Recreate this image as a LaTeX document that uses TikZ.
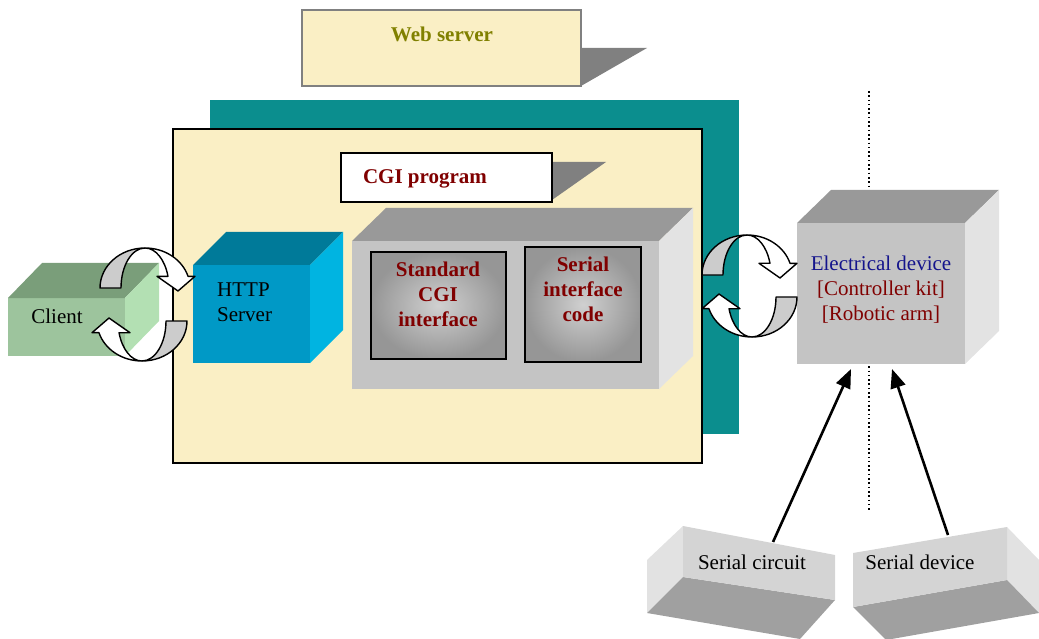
\documentclass[tikz,border=0pt]{standalone}
\usepackage{fontspec}
\setmainfont{Liberation Serif}
\usetikzlibrary{arrows.meta}

\definecolor{paper}{RGB}{250,239,197}
\definecolor{tealplane}{RGB}{11,142,142}
\definecolor{olivetext}{RGB}{128,128,0}
\definecolor{maroontext}{RGB}{128,0,0}
\definecolor{navytext}{RGB}{20,20,140}
\definecolor{shadowgray}{RGB}{128,128,128}
\definecolor{boxfront}{RGB}{196,196,196}
\definecolor{boxtop}{RGB}{153,153,153}
\definecolor{boxside}{RGB}{227,227,227}
\definecolor{httpfront}{RGB}{0,153,198}
\definecolor{httptop}{RGB}{0,122,153}
\definecolor{httpside}{RGB}{0,180,225}
\definecolor{clientfront}{RGB}{157,196,157}
\definecolor{clienttop}{RGB}{122,158,122}
\definecolor{clientside}{RGB}{179,224,179}
\definecolor{innerdark}{RGB}{150,150,150}
\definecolor{innerlight}{RGB}{208,208,208}
\definecolor{slabfront}{RGB}{212,212,212}
\definecolor{slabside}{RGB}{226,226,226}
\definecolor{slabbottom}{RGB}{160,160,160}
\definecolor{ribbon}{RGB}{204,204,204}

% top and right faces of a box whose front face is node #1
\newcommand\cubefaces[5]{%
  \fill[#4] (#1.north west) -- ++(#2,-#3) -- ([shift={(#2,-#3)}]#1.north east) -- (#1.north east) -- cycle;
  \fill[#5] (#1.north east) -- ++(#2,-#3) -- ([shift={(#2,-#3)}]#1.south east) -- (#1.south east) -- cycle;}

% twisted ribbon arrow, drawn about the local origin (y pointing up)
\newcommand\loopribbon{%
  \filldraw[ribbonback] (-45,0) arc[start angle=180,end angle=90,x radius=45,y radius=40]
    arc[start angle=90,end angle=180,x radius=24,y radius=40] -- cycle;
  \filldraw[ribbonfront] (0,40) arc[start angle=90,end angle=17,x radius=45,y radius=40]
    -- (50,11.7) -- (33,-3) -- (12,11.7) -- (22.95,11.7)
    arc[start angle=17,end angle=90,x radius=24,y radius=40] -- cycle;}

\begin{document}
\begin{tikzpicture}[x=1pt,y=-1pt,
  font=\fontsize{21}{25}\selectfont,
  plate/.style={inner sep=0pt, outer sep=0pt, anchor=north west},
  txt/.style={inner sep=0pt, align=center},
  boldtxt/.style={txt, font=\fontsize{21}{25}\selectfont\bfseries},
  ribbonback/.style={fill=ribbon, draw=black, line width=1.4pt, line join=round},
  ribbonfront/.style={fill=white, draw=black, line width=1.4pt, line join=round},
  feed/.style={line width=2.6pt, -{Triangle[length=19pt,width=15pt]}},
  divider/.style={line width=1.6pt, dash pattern=on 1.6pt off 2.7pt},
  framed/.style={draw=black, line width=2pt},
]
\useasboundingbox (0,0) rectangle (1039,639);

% "Web server" tag with its shadow
\fill[shadowgray] (581,48) -- (647,48) -- (581,86) -- cycle;
\node[plate, fill=paper, draw=shadowgray, line width=1.5pt, minimum width=279, minimum height=76] (web) at (302,10) {};
\node[boldtxt, text=olivetext] (web-text) at (442,34) {Web server};

% teal back plane and the host box
\node[plate, fill=tealplane, minimum width=529, minimum height=334] (back) at (210,100) {};
\node[plate, fill=paper, framed, minimum width=529, minimum height=334] (host) at (173,129) {};

% "CGI program" tag
\fill[shadowgray] (552,162) -- (606,162) -- (552,200) -- cycle;
\node[plate, fill=white, draw=black, line width=1.8pt, minimum width=211, minimum height=49] (cgitag) at (341,153) {};
\node[boldtxt, text=maroontext] (cgitag-text) at (425,179) {CGI program};

% grey CGI block with its two modules
\node[plate, fill=boxfront, minimum width=307, minimum height=148] (cgi) at (352,241) {};
\cubefaces{cgi}{34}{33}{boxtop}{boxside}
\node[plate, framed, inner color=innerlight, outer color=innerdark, minimum width=135, minimum height=107] (stdcgi) at (371,252) {};
\node[boldtxt, text=maroontext] (stdcgi-text) at (438,294) {Standard\\CGI\\interface};
\node[plate, framed, inner color=innerlight, outer color=innerdark, minimum width=116, minimum height=115] (sercode) at (525,247) {};
\node[boldtxt, text=maroontext] (sercode-text) at (583,289) {Serial\\interface\\code};

% client box
\node[plate, fill=clientfront, minimum width=117, minimum height=58] (client) at (8,298) {};
\cubefaces{client}{34}{35}{clienttop}{clientside}
\node[txt] (client-text) at (57,316) {Client};

% HTTP server box
\node[plate, fill=httpfront, minimum width=117, minimum height=98] (http) at (193,265) {};
\cubefaces{http}{33}{33}{httptop}{httpside}
\node[txt, align=left, anchor=west] (http-text) at (217,302) {HTTP\\Server};

% dotted divider behind the device
\coordinate (div-top) at (869,91);
\coordinate (div-bot) at (869,510);
\draw[divider] (div-top) -- (div-bot);

% electrical device box
\node[plate, fill=boxfront, minimum width=168, minimum height=141] (elec) at (797,223) {};
\cubefaces{elec}{34}{33}{boxtop}{boxside}
\node[txt] (elec-text) at (881,290) {\textcolor{navytext}{Electrical device}\\\textcolor{maroontext}{[Controller kit]}\\\textcolor{maroontext}{[Robotic arm]}};

% serial circuit slab
\fill[slabside] (683,526) -- (647,560) -- (647,613) -- (683,577) -- cycle;
\fill[slabbottom] (683,577) -- (835,600) -- (800,639) -- (647,613) -- cycle;
\fill[slabfront] (683,526) -- (835,555) -- (835,600) -- (683,577) -- cycle;
\node[txt] (scirc) at (752,562) {Serial circuit};

% serial device slab
\fill[slabside] (1007,527) -- (1039,560) -- (1039,613) -- (1007,580) -- cycle;
\fill[slabbottom] (853,607) -- (1007,580) -- (1039,613) -- (886,640) -- cycle;
\fill[slabfront] (853,553) -- (1007,527) -- (1007,580) -- (853,607) -- cycle;
\node[txt] (sdev) at (920,562) {Serial device};

% links from the serial parts to the device
\coordinate (scirc-port) at (773,542);
\coordinate (sdev-port) at (948,535);
\draw[feed] (scirc-port) -- ([shift={(-30,5)}]elec.south);
\draw[feed] (sdev-port) -- ([shift={(11,5)}]elec.south);

% request/response loops
\coordinate (loop-a) at (145,288);
\coordinate (loop-b) at (142,321);
\coordinate (loop-c) at (747,275);
\coordinate (loop-d) at (752,297);
\begin{scope}[shift={(loop-a)}, yscale=-1] \loopribbon \end{scope}
\begin{scope}[shift={(loop-b)}, xscale=-1] \loopribbon \end{scope}
\begin{scope}[shift={(loop-c)}, yscale=-1] \loopribbon \end{scope}
\begin{scope}[shift={(loop-d)}, xscale=-1] \loopribbon \end{scope}
\end{tikzpicture}
\end{document}
